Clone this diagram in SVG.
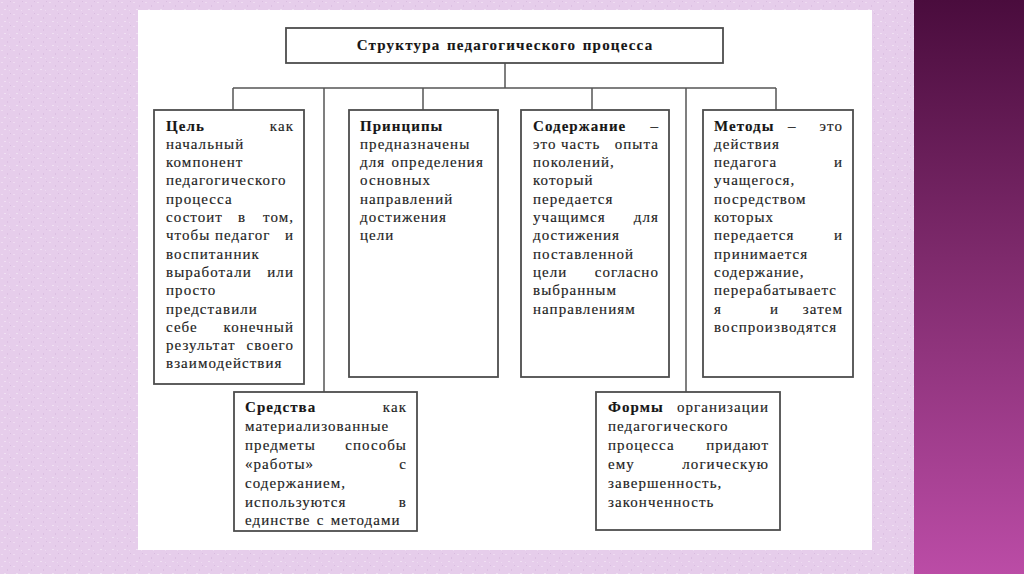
<svg xmlns="http://www.w3.org/2000/svg" width="1024" height="574" viewBox="0 0 1024 574">
<defs>
<linearGradient id="strip" x1="0" y1="0" x2="0" y2="1">
<stop offset="0" stop-color="#4a0c3d"/>
<stop offset="0.45" stop-color="#7e2a6c"/>
<stop offset="1" stop-color="#bb4ca6"/>
</linearGradient>
<pattern id="tex" width="12" height="12" patternUnits="userSpaceOnUse">
<rect width="12" height="12" fill="#e6cdeb"/>
<rect x="1" y="2" width="2" height="1" fill="#efdcf2"/>
<rect x="7" y="5" width="1" height="2" fill="#dcc0e2"/>
<rect x="4" y="9" width="2" height="1" fill="#f0e0f3"/>
<rect x="10" y="1" width="1" height="1" fill="#d9bde0"/>
<rect x="9" y="10" width="1" height="1" fill="#eddaf1"/>
</pattern>
</defs>
<style>
.box{fill:#ffffff;stroke:#4d4d4d;stroke-width:1.8}
.ln{fill:none;stroke:#555555;stroke-width:1.5}
.t{font-family:"Liberation Serif","Times New Roman","DejaVu Serif",serif;font-size:15px;letter-spacing:1.05px;word-spacing:1.5px;fill:#222222;stroke:#222222;stroke-width:0.15}
.b{font-weight:bold;fill:#161616}
.e{text-anchor:end}
</style>
<rect x="0" y="0" width="1024" height="574" fill="url(#tex)"/>
<rect x="914" y="0" width="110" height="574" fill="url(#strip)"/>
<rect x="138" y="10" width="734" height="540" fill="#ffffff"/>

<g id="connectors">
<path class="ln" d="M505,63 V88 M233,88 H776 M233,88 V110 M324,88 V392 M423,88 V110 M592,88 V110 M686,88 V392 M776,88 V110"/>
</g>

<g id="title">
<rect class="box" x="286" y="28" width="437" height="35"/>
<text class="t b" x="505" y="50" text-anchor="middle" style="letter-spacing:1.2px">Структура педагогического процесса</text>
</g>

<g id="goal">
<rect class="box" x="154" y="110" width="150" height="274"/>
<text class="t b" x="166" y="130.5">Цель</text><text class="t e" x="294" y="130.5">как</text>
<text class="t" x="166" y="148.8">начальный</text>
<text class="t" x="166" y="167.1">компонент</text>
<text class="t" x="166" y="185.4">педагогического</text>
<text class="t" x="166" y="203.7">процесса</text>
<text class="t" x="166" y="222">состоит</text><text class="t" x="238" y="222">в</text><text class="t e" x="294" y="222">том,</text>
<text class="t" x="166" y="240.3">чтобы</text><text class="t" x="215" y="240.3">педагог</text><text class="t e" x="294" y="240.3">и</text>
<text class="t" x="166" y="258.6">воспитанник</text>
<text class="t" x="166" y="276.9">выработали</text><text class="t e" x="294" y="276.9">или</text>
<text class="t" x="166" y="295.2">просто</text>
<text class="t" x="166" y="313.5">представили</text>
<text class="t" x="166" y="331.8">себе</text><text class="t e" x="294" y="331.8">конечный</text>
<text class="t" x="166" y="350.1">результат</text><text class="t e" x="294" y="350.1">своего</text>
<text class="t" x="166" y="368.4">взаимодействия</text>
</g>

<g id="principles">
<rect class="box" x="349" y="110" width="149" height="267"/>
<text class="t b" x="360" y="130.5">Принципы</text>
<text class="t" x="360" y="148.8">предназначены</text>
<text class="t" x="360" y="167.1">для определения</text>
<text class="t" x="360" y="185.4">основных</text>
<text class="t" x="360" y="203.7">направлений</text>
<text class="t" x="360" y="222">достижения</text>
<text class="t" x="360" y="240.3">цели</text>
</g>

<g id="content">
<rect class="box" x="521" y="110" width="148" height="267"/>
<text class="t b" x="533" y="130.5">Содержание</text><text class="t e" x="659" y="130.5">–</text>
<text class="t" x="533" y="148.8">это</text><text class="t" x="561" y="148.8">часть</text><text class="t e" x="659" y="148.8">опыта</text>
<text class="t" x="533" y="167.1">поколений,</text>
<text class="t" x="533" y="185.4">который</text>
<text class="t" x="533" y="203.7">передается</text>
<text class="t" x="533" y="222">учащимся</text><text class="t e" x="659" y="222">для</text>
<text class="t" x="533" y="240.3">достижения</text>
<text class="t" x="533" y="258.6">поставленной</text>
<text class="t" x="533" y="276.9">цели</text><text class="t e" x="659" y="276.9">согласно</text>
<text class="t" x="533" y="295.2">выбранным</text>
<text class="t" x="533" y="313.5">направлениям</text>
</g>

<g id="methods">
<rect class="box" x="703" y="110" width="150" height="267"/>
<text class="t b" x="714" y="130.5">Методы</text><text class="t" x="788" y="130.5">–</text><text class="t e" x="843" y="130.5">это</text>
<text class="t" x="714" y="148.8">действия</text>
<text class="t" x="714" y="167.1">педагога</text><text class="t e" x="843" y="167.1">и</text>
<text class="t" x="714" y="185.4">учащегося,</text>
<text class="t" x="714" y="203.7">посредством</text>
<text class="t" x="714" y="222">которых</text>
<text class="t" x="714" y="240.3">передается</text><text class="t e" x="843" y="240.3">и</text>
<text class="t" x="714" y="258.6">принимается</text>
<text class="t" x="714" y="276.9">содержание,</text>
<text class="t" x="714" y="295.2">перерабатываетс</text>
<text class="t" x="714" y="313.5">я</text><text class="t" x="770" y="313.5">и</text><text class="t e" x="843" y="313.5">затем</text>
<text class="t" x="714" y="331.8">воспроизводятся</text>
</g>

<g id="means">
<rect class="box" x="234" y="392" width="183" height="139"/>
<text class="t b" x="245" y="411.7">Средства</text><text class="t e" x="407" y="411.7">как</text>
<text class="t" x="245" y="430.6">материализованные</text>
<text class="t" x="245" y="449.6">предметы</text><text class="t e" x="407" y="449.6">способы</text>
<text class="t" x="245" y="468.5">«работы»</text><text class="t e" x="407" y="468.5">с</text>
<text class="t" x="245" y="487.5">содержанием,</text>
<text class="t" x="245" y="506.5">используются</text><text class="t e" x="407" y="506.5">в</text>
<text class="t" x="245" y="525.4">единстве с методами</text>
</g>

<g id="forms">
<rect class="box" x="596" y="392" width="184" height="138"/>
<text class="t b" x="608" y="411.7">Формы</text><text class="t e" x="769" y="411.7">организации</text>
<text class="t" x="608" y="430.6">педагогического</text>
<text class="t" x="608" y="449.6">процесса</text><text class="t e" x="769" y="449.6">придают</text>
<text class="t" x="608" y="468.5">ему</text><text class="t e" x="769" y="468.5">логическую</text>
<text class="t" x="608" y="487.5">завершенность,</text>
<text class="t" x="608" y="506.5">законченность</text>
</g>
</svg>
